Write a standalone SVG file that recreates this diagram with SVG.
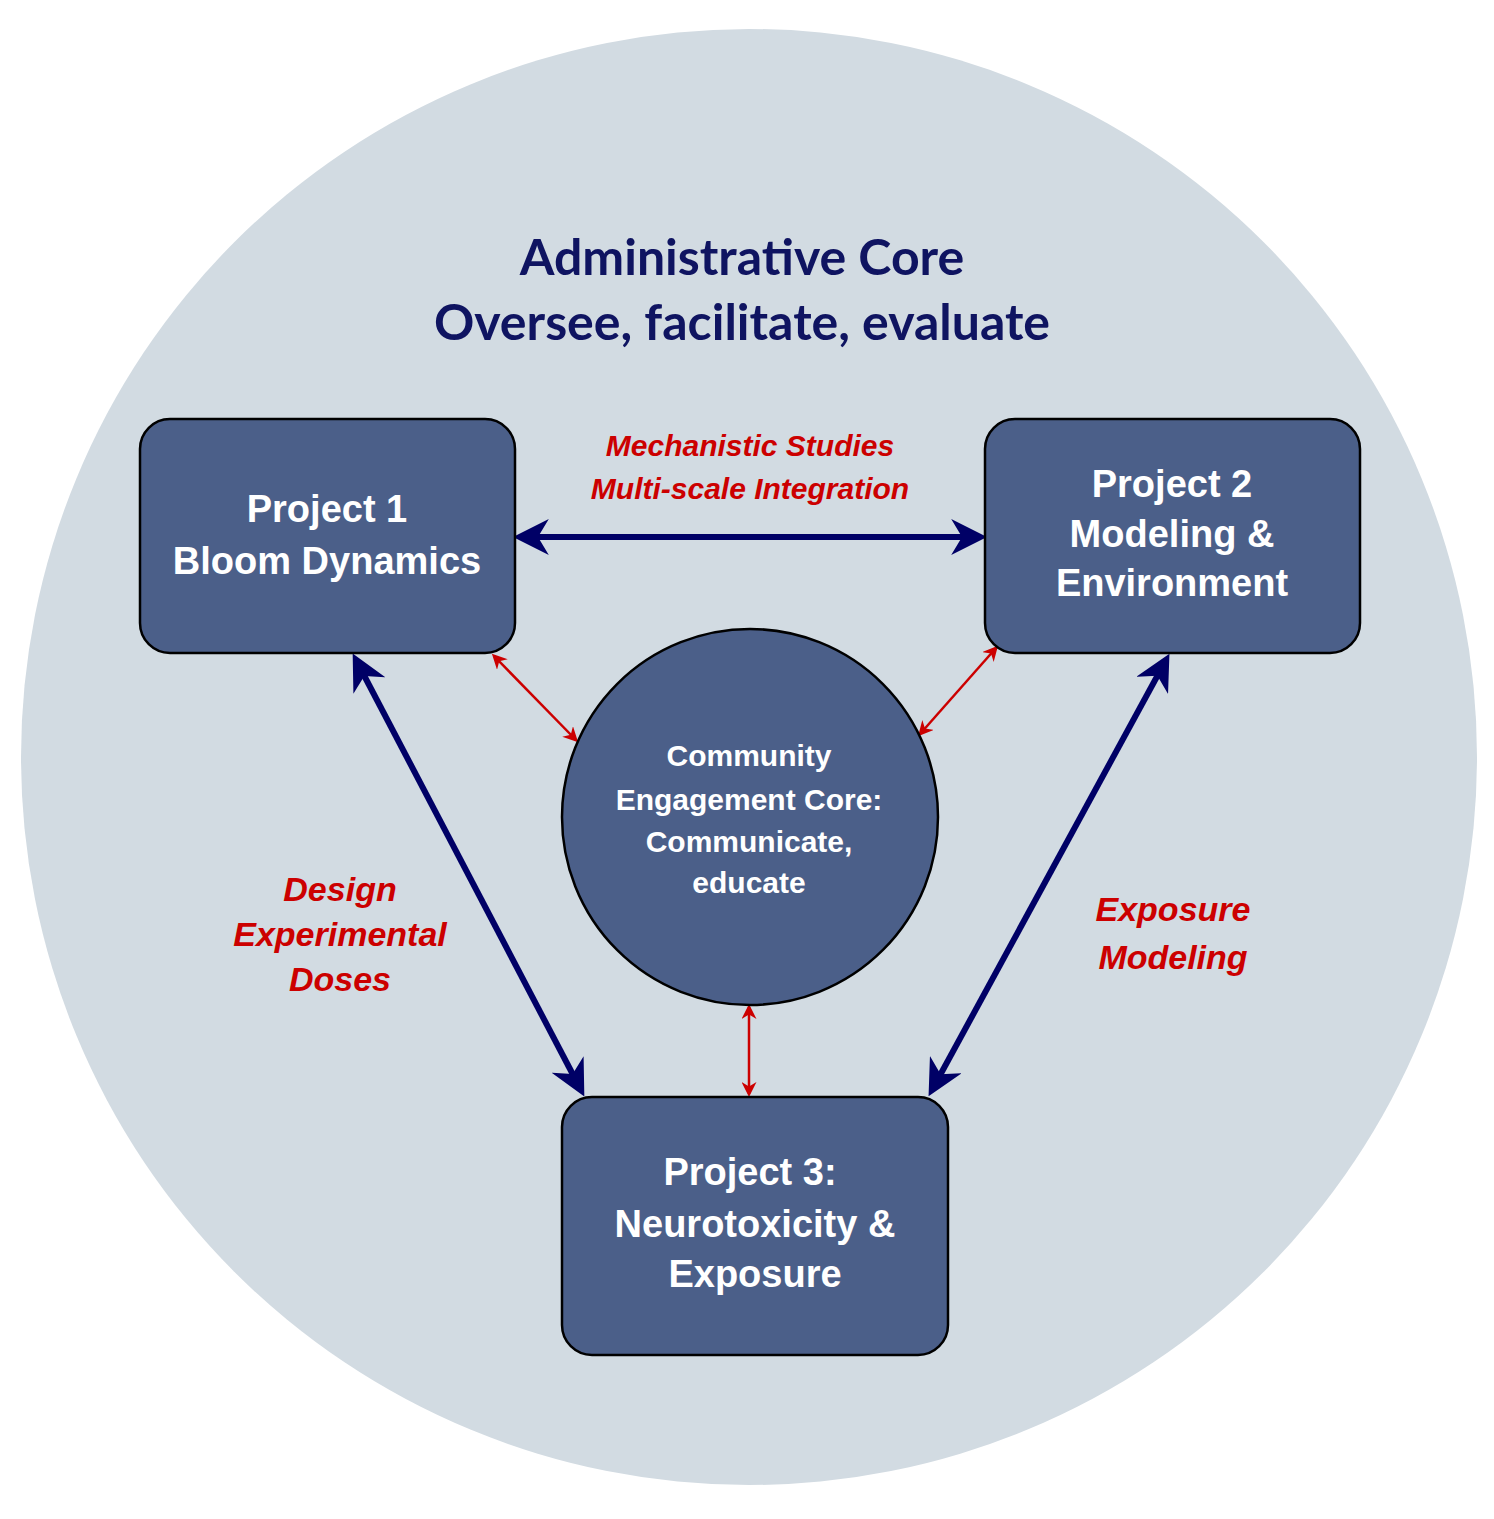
<svg xmlns="http://www.w3.org/2000/svg" width="1494" height="1519" viewBox="0 0 1494 1519">
<style>
.box{fill:#4b5f89;stroke:#000;stroke-width:2.5}
.w{fill:#fff;font-family:"Liberation Sans",Arial,sans-serif;font-weight:bold;text-anchor:middle}
.r{fill:#cc0000;font-family:"Liberation Sans",Arial,sans-serif;font-weight:bold;font-style:italic;text-anchor:middle}
.t{fill:#0f1461;font-family:Lato,"Liberation Sans",sans-serif;font-weight:bold;font-size:50px;text-anchor:middle}
.nv{stroke:#000066;stroke-width:6;fill:none;marker-start:url(#nh);marker-end:url(#nh)}
.rd{stroke:#cc0000;stroke-width:2.5;fill:none;marker-start:url(#rh);marker-end:url(#rh)}
</style>
<defs>
<marker id="nh" viewBox="0 0 10 10" refX="8" refY="5" markerWidth="6" markerHeight="6" orient="auto-start-reverse" markerUnits="strokeWidth"><path d="M0,0 L10,5 L0,10 L3,5 Z" fill="#000066"/></marker>
<marker id="rh" viewBox="0 0 10 10" refX="8" refY="5" markerWidth="6" markerHeight="6" orient="auto-start-reverse" markerUnits="strokeWidth"><path d="M0,0 L10,5 L0,10 L3,5 Z" fill="#cc0000"/></marker>
</defs>
<circle cx="749" cy="757" r="728" fill="#d2dbe2"/>
<g id="title"><text class="t" x="742" y="275">Administrative Core</text><text class="t" x="742" y="340">Oversee, facilitate, evaluate</text></g>
<g id="connectors">
<line class="nv" x1="520" y1="537" x2="980" y2="537"/>
<line class="nv" x1="356" y1="660" x2="581" y2="1090"/>
<line class="nv" x1="1166" y1="660" x2="932" y2="1090"/>
<line class="rd" x1="494" y1="656" x2="576" y2="740"/>
<line class="rd" x1="996" y1="648" x2="920" y2="734"/>
<line class="rd" x1="749" y1="1007" x2="749" y2="1094"/>
</g>
<g id="labels">
<text class="r" font-size="30" x="750" y="456">Mechanistic Studies</text>
<text class="r" font-size="30" x="750" y="499">Multi-scale Integration</text>
<text class="r" font-size="34" x="340" y="901">Design</text>
<text class="r" font-size="34" x="340" y="946">Experimental</text>
<text class="r" font-size="34" x="340" y="991">Doses</text>
<text class="r" font-size="34" x="1173" y="921">Exposure</text>
<text class="r" font-size="34" x="1173" y="969">Modeling</text>
</g>
<g id="p1"><rect class="box" x="140" y="419" width="375" height="234" rx="30"/><text class="w" font-size="38" x="327" y="522">Project 1</text><text class="w" font-size="38" x="327" y="574">Bloom Dynamics</text></g>
<g id="p2"><rect class="box" x="985" y="419" width="375" height="234" rx="30"/><text class="w" font-size="38" x="1172" y="497">Project 2</text><text class="w" font-size="38" x="1172" y="547">Modeling &amp;</text><text class="w" font-size="38" x="1172" y="596">Environment</text></g>
<g id="p3"><rect class="box" x="562" y="1097" width="386" height="258" rx="30"/><text class="w" font-size="38" x="750" y="1185">Project 3:</text><text class="w" font-size="38" x="755" y="1237">Neurotoxicity &amp;</text><text class="w" font-size="38" x="755" y="1287">Exposure</text></g>
<g id="cec"><circle class="box" cx="750" cy="817" r="188"/><text class="w" font-size="30" x="749" y="766">Community</text><text class="w" font-size="30" x="749" y="810">Engagement Core:</text><text class="w" font-size="30" x="749" y="852">Communicate,</text><text class="w" font-size="30" x="749" y="893">educate</text></g>
</svg>
